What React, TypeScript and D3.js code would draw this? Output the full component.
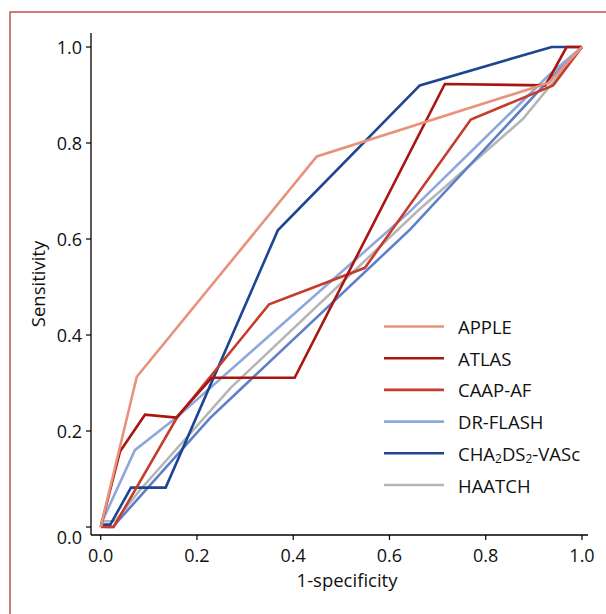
import React from 'react';
import * as d3 from 'd3';

// ROC curves: [1-specificity, sensitivity]
const apple = [[0, 0], [0.075, 0.313], [0.449, 0.772], [0.93, 0.925], [1, 1]];
const atlas = [[0, 0], [0.04, 0.157], [0.092, 0.234], [0.157, 0.228], [0.231, 0.311], [0.403, 0.311], [0.715, 0.923], [0.924, 0.92], [0.968, 1], [1, 1]];
const caapAf = [[0, 0], [0.027, 0], [0.158, 0.227], [0.35, 0.464], [0.549, 0.54], [0.769, 0.849], [0.94, 0.92], [1, 1]];
const drFlash = [[0, 0.005], [0.071, 0.16], [0.16, 0.23], [0.64, 0.655], [0.93, 0.94], [1, 1]];
const chads = [[0.005, 0.005], [0.02, 0.005], [0.063, 0.082], [0.135, 0.082], [0.368, 0.618], [0.663, 0.92], [0.937, 1], [1, 1]];
const haatch = [[0, 0.012], [0.03, 0.012], [0.08, 0.075], [0.27, 0.29], [0.66, 0.66], [0.877, 0.85], [1, 1]];
const diagonal = [[0.012, 0.0], [0.025, 0.0], [0.227, 0.227], [0.643, 0.62], [0.93, 0.93], [1, 1]];

const legendNames = ['APPLE', 'ATLAS', 'CAAP-AF', 'DR-FLASH', 'CHA2DS2-VASc', 'HAATCH'];
const legendColors = ['#e8917b', '#a8160f', '#c53d2c', '#8ea8dc', '#1d4592', '#b6b6b6'];
const ticks = [0, 0.2, 0.4, 0.6, 0.8, 1.0];

const font = '"Open Sans", sans-serif';

export default function App() {
  const x = d3.scaleLinear().domain([0, 1]).range([100.7, 582]);
  const y = d3.scaleLinear().domain([0, 1]).range([527, 47]);
  const line = d3.line<number[]>().x(d => x(d[0])).y(d => y(d[1]));

  // draw order (last on top)
  const curves = [
    { data: haatch, color: legendColors[5] },
    { data: diagonal, color: '#5e80c9' },
    { data: drFlash, color: legendColors[3] },
    { data: chads, color: legendColors[4] },
    { data: caapAf, color: legendColors[2] },
    { data: atlas, color: legendColors[1] },
    { data: apple, color: legendColors[0] },
  ];

  const axisX0 = 91, axisX1 = 588, axisY = 535, axisYTop = 33;

  return (
    <svg width={606} height={614} style={{ position: 'absolute', left: 0, top: 0, background: '#fff' }}>
      <rect x={10} y={12} width={700} height={700} fill="none" stroke="#c0504d" strokeWidth={1.5} />

      {/* axes */}
      <line x1={axisX0} x2={axisX0} y1={axisYTop} y2={axisY} stroke="#000" strokeWidth={1.3} />
      <line x1={axisX0} x2={axisX1} y1={axisY} y2={axisY} stroke="#000" strokeWidth={1.3} />
      {ticks.map(t => (
        <g key={'y' + t}>
          <line x1={axisX0 - 5} x2={axisX0} y1={y(t)} y2={y(t)} stroke="#000" strokeWidth={1.2} />
          <text x={82} y={y(t) + (t === 0 ? 10 : 0)} textAnchor="end" dominantBaseline="central"
            fontFamily={font} fontSize={18} fill="#111">{t.toFixed(1)}</text>
        </g>
      ))}
      {ticks.map(t => (
        <g key={'x' + t}>
          <line x1={x(t)} x2={x(t)} y1={axisY} y2={axisY + 5} stroke="#000" strokeWidth={1.2} />
          <text x={x(t)} y={562} textAnchor="middle" fontFamily={font} fontSize={18} fill="#111">{t.toFixed(1)}</text>
        </g>
      ))}
      <text x={347} y={587} textAnchor="middle" fontFamily={font} fontSize={18.5} fill="#111">1-specificity</text>
      <text transform="translate(37,284) rotate(-90)" textAnchor="middle" dominantBaseline="central"
        fontFamily={font} fontSize={18.5} fill="#111">Sensitivity</text>

      {/* curves */}
      {curves.map((c, i) => (
        <path key={i} d={line(c.data) || ''} fill="none" stroke={c.color} strokeWidth={2.6} strokeLinejoin="miter" />
      ))}

      {/* legend */}
      {legendNames.map((n, i) => {
        const ly = 326.5 + i * 31.7;
        return (
          <g key={n}>
            <line x1={384} x2={444} y1={ly} y2={ly} stroke={legendColors[i]} strokeWidth={2.6} />
            <text x={458} y={ly} dominantBaseline="central" fontFamily={font} fontSize={18.5} fill="#111">
              {n === 'CHA2DS2-VASc' ? (
                <>
                  CHA<tspan fontSize={12} dy={5}>2</tspan>
                  <tspan dy={-5}>DS</tspan>
                  <tspan fontSize={12} dy={5}>2</tspan>
                  <tspan dy={-5}>-VASc</tspan>
                </>
              ) : n}
            </text>
          </g>
        );
      })}
    </svg>
  );
}
